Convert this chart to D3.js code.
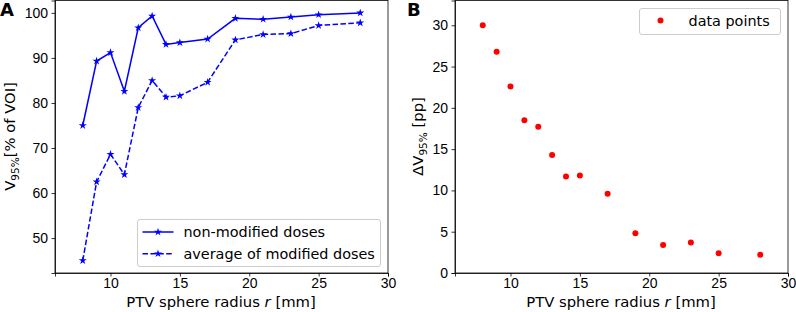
<!DOCTYPE html>
<html>
<head>
<meta charset="utf-8">
<script src="https://cdn.jsdelivr.net/npm/d3@7"></script>
<style>
body { margin: 0; background: #fff; }
svg { font-family: "DejaVu Sans", sans-serif; }
.axis text { font-size: 14px; fill: #000; }
.axis path, .axis line { stroke: #000; stroke-width: 0.8; }
</style>
</head>
<body>
<div id="chart-area"></div>
<script>
// radius of the PTV sphere [mm]
var radius = [8, 9, 10, 11, 12, 13, 14, 15, 17, 19, 21, 23, 25, 28];
// V95% [% of VOI]
var nonModified = [75, 89.3, 91.2, 82.6, 96.7, 99.3, 93.0, 93.4, 94.2, 98.8, 98.6, 99.1, 99.6, 100];
var avgModified = [45, 62.5, 68.6, 64.1, 79.0, 85.0, 81.3, 81.6, 84.6, 94.0, 95.2, 95.4, 97.2, 97.8];
// Delta V95% [pp]
var deltaV = [30, 26.8, 22.6, 18.5, 17.7, 14.3, 11.7, 11.8, 9.6, 4.8, 3.4, 3.7, 2.4, 2.2];

var xTicks = [10, 15, 20, 25, 30];
var yTicksA = [50, 60, 70, 80, 90, 100];
var yTicksB = [0, 5, 10, 15, 20, 25, 30];

var blue = "#0000ff", red = "#ff0000";

var svg = d3.select("#chart-area")
    .append("svg")
        .attr("width", 796)
        .attr("height", 312);

var panelTop = 0.5, panelBottom = 273;

// ---------- Panel A ----------
var xA = d3.scaleLinear().domain([6, 30]).range([55, 388]);
var yA = d3.scaleLinear().domain([42.25, 102.75]).range([panelBottom, panelTop]);

svg.append("g")
    .attr("class", "axis")
    .attr("transform", "translate(0," + panelBottom + ")")
    .call(d3.axisBottom(xA).tickValues(xTicks).tickSizeOuter(0).tickSize(3.5).tickPadding(2));

svg.append("g")
    .attr("class", "axis")
    .attr("transform", "translate(55,0)")
    .call(d3.axisLeft(yA).tickValues(yTicksA).tickSizeOuter(0).tickSize(3.5).tickPadding(3.5));

// frame
svg.append("rect")
    .attr("x", 55).attr("y", panelTop)
    .attr("width", 333).attr("height", panelBottom - panelTop)
    .attr("fill", "none").attr("stroke", "#000").attr("stroke-width", 0.8);

var lineA = d3.line()
    .x(function(d, i){ return xA(radius[i]); })
    .y(function(d){ return yA(d); });

var star = d3.symbol().type(d3.symbolStar).size(20);

function drawSeries(values, dash) {
    svg.append("path")
        .attr("d", lineA(values))
        .attr("fill", "none")
        .attr("stroke", blue)
        .attr("stroke-width", 1.5)
        .attr("stroke-dasharray", dash);
    svg.append("g").selectAll("path")
        .data(values)
        .enter()
        .append("path")
            .attr("d", star)
            .attr("transform", function(d, i){ return "translate(" + xA(radius[i]) + "," + yA(d) + ")"; })
            .attr("fill", blue);
}
drawSeries(nonModified, null);
drawSeries(avgModified, "5.5,2.4");

// legend A
var legA = svg.append("g").attr("transform", "translate(137.5,219.5)");
legA.append("rect")
    .attr("width", 243).attr("height", 47).attr("rx", 2.5)
    .attr("fill", "#fff").attr("fill-opacity", 0.8)
    .attr("stroke", "#ccc").attr("stroke-width", 1);
[["non-modified doses", null], ["average of modified doses", "5.5,2.4"]].forEach(function(e, i){
    var cy = 12.5 + i * 21.7;
    legA.append("line")
        .attr("x1", 5).attr("x2", 36).attr("y1", cy).attr("y2", cy)
        .attr("stroke", blue).attr("stroke-width", 1.5)
        .attr("stroke-dasharray", e[1]);
    legA.append("path").attr("d", star)
        .attr("transform", "translate(20.5," + cy + ")").attr("fill", blue);
    legA.append("text")
        .attr("x", 46).attr("y", cy + 5)
        .attr("font-size", "14.4px")
        .text(e[0]);
});

// labels A
svg.append("text")
    .attr("x", 221).attr("y", 307)
    .attr("font-size", "14.8px").attr("text-anchor", "middle")
    .html("PTV sphere radius <tspan font-style='italic'>r</tspan> [mm]");

svg.append("text")
    .attr("transform", "translate(15," + (panelBottom / 2) + ") rotate(-90)")
    .attr("font-size", "14.8px").attr("text-anchor", "middle")
    .html("V<tspan font-size='10.5px' dy='4'>95%</tspan><tspan dy='-4'>[% of VOI]</tspan>");

svg.append("text")
    .attr("x", 0).attr("y", 16)
    .attr("font-size", "18px").attr("font-weight", "bold")
    .text("A");

// ---------- Panel B ----------
var xB = d3.scaleLinear().domain([6, 30]).range([455, 788]);
var yB = d3.scaleLinear().domain([0, 33]).range([panelBottom, panelTop]);

svg.append("g")
    .attr("class", "axis")
    .attr("transform", "translate(0," + panelBottom + ")")
    .call(d3.axisBottom(xB).tickValues(xTicks).tickSizeOuter(0).tickSize(3.5).tickPadding(2));

svg.append("g")
    .attr("class", "axis")
    .attr("transform", "translate(455,0)")
    .call(d3.axisLeft(yB).tickValues(yTicksB).tickSizeOuter(0).tickSize(3.5).tickPadding(3.5));

svg.append("rect")
    .attr("x", 455).attr("y", panelTop)
    .attr("width", 333).attr("height", panelBottom - panelTop)
    .attr("fill", "none").attr("stroke", "#000").attr("stroke-width", 0.8);

svg.append("g").selectAll("circle")
    .data(deltaV)
    .enter()
    .append("circle")
        .attr("cx", function(d, i){ return xB(radius[i]); })
        .attr("cy", function(d){ return yB(d); })
        .attr("r", 3)
        .attr("fill", red);

// legend B
var legB = svg.append("g").attr("transform", "translate(639.5,8.5)");
legB.append("rect")
    .attr("width", 141).attr("height", 26).attr("rx", 2.5)
    .attr("fill", "#fff").attr("fill-opacity", 0.8)
    .attr("stroke", "#ccc").attr("stroke-width", 1);
legB.append("circle").attr("cx", 21).attr("cy", 12).attr("r", 3).attr("fill", red);
legB.append("text")
    .attr("x", 49).attr("y", 17)
    .attr("font-size", "14.4px")
    .text("data points");

// labels B
svg.append("text")
    .attr("x", 621).attr("y", 307)
    .attr("font-size", "14.8px").attr("text-anchor", "middle")
    .html("PTV sphere radius <tspan font-style='italic'>r</tspan> [mm]");

svg.append("text")
    .attr("transform", "translate(423," + (panelBottom / 2) + ") rotate(-90)")
    .attr("font-size", "14.8px").attr("text-anchor", "middle")
    .html("ΔV<tspan font-size='10.5px' dy='4'>95%</tspan><tspan dy='-4'> [pp]</tspan>");

svg.append("text")
    .attr("x", 407).attr("y", 16)
    .attr("font-size", "18px").attr("font-weight", "bold")
    .text("B");
</script>
</body>
</html>
